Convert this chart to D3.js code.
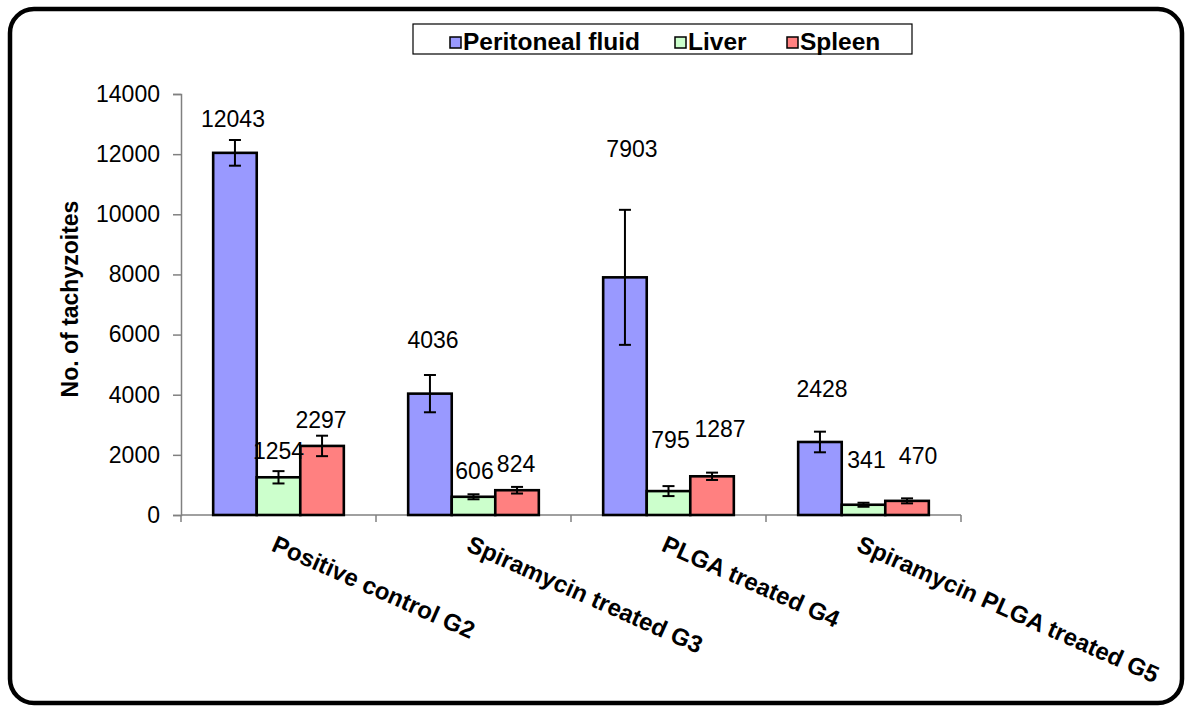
<!DOCTYPE html>
<html><head><meta charset="utf-8">
<script src="https://cdn.jsdelivr.net/npm/d3@7"></script>
<style>
html,body{margin:0;padding:0;background:#fff;}
text{font-family:"Liberation Sans",Arial,sans-serif;}
</style></head>
<body>
<svg id="chart" width="1185" height="706"></svg>
<script>
const categories = ["Positive control G2","Spiramycin treated G3","PLGA treated G4","Spiramycin PLGA treated G5"];
const seriesNames = ["Peritoneal fluid","Liver","Spleen"];
const peritoneal = [12043, 4036, 7903, 2428];
const liver = [1254, 606, 795, 341];
const spleen = [2297, 824, 1287, 470];
const errPeritoneal = [427, 620, 2245, 343];
const errLiver = [205, 83, 166, 67];
const errSpleen = [340, 110, 122, 83];
const yTicks = [0,2000,4000,6000,8000,10000,12000,14000];
// label placement offsets (layout only): [dx, dy] from bar top
const labelOffsets = [
  [[-2,-26],[0,-18],[-1,-18]],
  [[3,-46],[1,-18],[-1,-18]],
  [[7,-120],[2,-43],[8,-39]],
  [[2,-45],[3,-37],[11,-37]]
];
const colors = ["#9999FF","#CCFFCC","#FF8080"];

const svg = d3.select("#chart");
const values = [peritoneal, liver, spleen];
const errors = [errPeritoneal, errLiver, errSpleen];

svg.append("rect").attr("x",10).attr("y",9).attr("width",1172).attr("height",694)
  .attr("rx",24).attr("ry",24).attr("fill","#fff").attr("stroke","#000").attr("stroke-width",4.5);

const x0 = d3.scaleBand().domain(categories).range([181,961]).paddingInner(0.33).paddingOuter(0.165);
const x1 = d3.scaleBand().domain(seriesNames).range([0,x0.bandwidth()]);
const y = d3.scaleLinear().domain([0,14000]).range([515,94]);

const yAxis = svg.append("g").attr("transform","translate(181,0)")
  .call(d3.axisLeft(y).tickValues(yTicks).tickSize(8).tickPadding(13).tickFormat(d3.format("d")));
yAxis.select(".domain").attr("stroke","#808080").attr("stroke-width",1.5);
yAxis.selectAll(".tick line").attr("stroke","#808080").attr("stroke-width",1.5);
yAxis.selectAll(".tick text").attr("font-size",23).attr("fill","#000")
  .style("font-family","'Liberation Sans',Arial,sans-serif");

const xg = svg.append("g");
xg.append("line").attr("x1",181).attr("x2",961).attr("y1",y(0)).attr("y2",y(0))
  .attr("stroke","#808080").attr("stroke-width",1.5);
const step = (961-181)/categories.length;
d3.range(categories.length+1).forEach(i=>{
  xg.append("line").attr("x1",181+step*i).attr("x2",181+step*i).attr("y1",y(0)).attr("y2",y(0)+7)
    .attr("stroke","#808080").attr("stroke-width",1.5);
});

const groups = svg.selectAll("g.grp").data(categories).join("g").attr("class","grp")
  .attr("transform",d=>`translate(${x0(d)},0)`);
groups.each(function(cat,ci){
  const g = d3.select(this);
  seriesNames.forEach((s,si)=>{
    const v = values[si][ci];
    g.append("rect").attr("x",x1(s)).attr("y",y(v)).attr("width",x1.bandwidth()).attr("height",y(0)-y(v))
      .attr("fill",colors[si]).attr("stroke","#000").attr("stroke-width",2.6);
  });
});
groups.each(function(cat,ci){
  const g = d3.select(this);
  seriesNames.forEach((s,si)=>{
    const v = values[si][ci], e = errors[si][ci];
    const cx = x1(s)+x1.bandwidth()/2;
    g.append("line").attr("x1",cx).attr("x2",cx).attr("y1",y(v+e)).attr("y2",y(v-e)).attr("stroke","#000").attr("stroke-width",2);
    [v+e,v-e].forEach(t=>g.append("line").attr("x1",cx-6).attr("x2",cx+6).attr("y1",y(t)).attr("y2",y(t)).attr("stroke","#000").attr("stroke-width",2));
  });
});
groups.each(function(cat,ci){
  const g = d3.select(this);
  seriesNames.forEach((s,si)=>{
    const v = values[si][ci];
    const off = labelOffsets[ci][si];
    g.append("text").attr("x",x1(s)+x1.bandwidth()/2+off[0]).attr("y",y(v)+off[1])
      .attr("text-anchor","middle").attr("font-size",23).attr("fill","#000").text(v);
  });
});

categories.forEach(c=>{
  const cx = x0(c)+x0.bandwidth()/2;
  svg.append("text").attr("transform",`translate(${cx-1},534) rotate(24)`)
    .attr("dy","0.74em").attr("font-size",24).attr("font-weight","bold").attr("fill","#000").text(c);
});

svg.append("text").attr("transform","translate(78,299) rotate(-90)").attr("text-anchor","middle")
  .attr("font-size",23).attr("font-weight","bold").text("No. of tachyzoites");

const lg = svg.append("g");
lg.append("rect").attr("x",413).attr("y",24).attr("width",499).attr("height",30)
  .attr("fill","#fff").attr("stroke","#000").attr("stroke-width",1.2);
const legX = [450, 675, 787];
seriesNames.forEach((s,i)=>{
  lg.append("rect").attr("x",legX[i]).attr("y",37).attr("width",11).attr("height",11)
    .attr("fill",colors[i]).attr("stroke","#000").attr("stroke-width",1.5);
  lg.append("text").attr("x",legX[i]+13).attr("y",50).attr("font-size",24.5).attr("font-weight","bold").text(s);
});
</script>
</body></html>
